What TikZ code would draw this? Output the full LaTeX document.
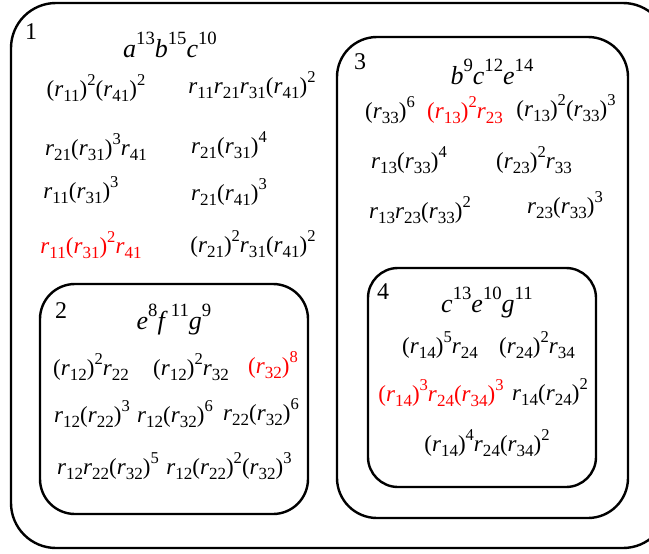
\documentclass[tikz,border=0pt]{standalone}
\usepackage{fontspec}
\setmainfont{Liberation Serif}
\newcommand{\rv}[1]{\textit{r}\raisebox{-0.22em}{\scalebox{0.74}{#1}}}
\newcommand{\pw}[1]{\raisebox{0.5em}{\scalebox{0.72}{#1}}}
\newcommand{\vv}[2]{\textit{#1}\pw{#2}}
\tikzset{
  box/.style={line width=2.4pt,rounded corners=#1},
  term/.style={font=\fontsize{23}{25}\selectfont,inner sep=0pt},
  head/.style={font=\fontsize{26}{28}\selectfont,inner sep=0pt},
  num/.style={font=\fontsize{24}{26}\selectfont,inner sep=0pt},
  hot/.style={term,red}
}
\begin{document}
\begin{tikzpicture}[x=1pt,y=-1pt]
\useasboundingbox (0,0) rectangle (649,554);
\clip (0,0) rectangle (649,554);

% the four regions
\draw [box=45pt](11,3) rectangle (668,548);
\draw [box=35pt](40,284) rectangle (308,514);
\draw [box=40pt](337,37) rectangle (628,518);
\draw [box=30pt](368,268) rectangle (596,487);

% region 1
\node[num] (n1) at (31,32) {1};
\node[head] (h1) at (170,45) {\vv{a}{13}\vv{b}{15}\vv{c}{10}};
\node[term] (t11) at (96,88) {(\rv{11})\pw{2}(\rv{41})\pw{2}};
\node[term] (t12) at (252,85) {\rv{11}\rv{21}\rv{31}(\rv{41})\pw{2}};
\node[term] (t13) at (96,147) {\rv{21}(\rv{31})\pw{3}\rv{41}};
\node[term] (t14) at (229,145) {\rv{21}(\rv{31})\pw{4}};
\node[term] (t15) at (81,190) {\rv{11}(\rv{31})\pw{3}};
\node[term] (t16) at (229,192) {\rv{21}(\rv{41})\pw{3}};
\node[hot] (t17) at (91,245) {\rv{11}(\rv{31})\pw{2}\rv{41}};
\node[term] (t18) at (253,244) {(\rv{21})\pw{2}\rv{31}(\rv{41})\pw{2}};

% region 2
\node[num] (n2) at (61,311) {2};
\node[head] (h2) at (174,320) {\vv{e}{8}\vv{f}{\,11}\vv{g}{9}};
\node[term] (t21) at (91,367) {(\rv{12})\pw{2}\rv{22}};
\node[term] (t22) at (191,367) {(\rv{12})\pw{2}\rv{32}};
\node[hot] (t23) at (273,365) {(\rv{32})\pw{8}};
\node[term] (t24) at (92,414) {\rv{12}(\rv{22})\pw{3}};
\node[term] (t25) at (175,414) {\rv{12}(\rv{32})\pw{6}};
\node[term] (t26) at (261,412) {\rv{22}(\rv{32})\pw{6}};
\node[term] (t27) at (108,466) {\rv{12}\rv{22}(\rv{32})\pw{5}};
\node[term] (t28) at (229,466) {\rv{12}(\rv{22})\pw{2}(\rv{32})\pw{3}};

% region 3
\node[num] (n3) at (360,62) {3};
\node[head] (h3) at (492,72) {\vv{b}{9}\vv{c}{12}\vv{e}{14}};
\node[term] (t31) at (390,110) {(\rv{33})\pw{6}};
\node[hot] (t32) at (465,110) {(\rv{13})\pw{2}\rv{23}};
\node[term] (t33) at (566,108) {(\rv{13})\pw{2}(\rv{33})\pw{3}};
\node[term] (t34) at (409,160) {\rv{13}(\rv{33})\pw{4}};
\node[term] (t35) at (534,160) {(\rv{23})\pw{2}\rv{33}};
\node[term] (t36) at (420,210) {\rv{13}\rv{23}(\rv{33})\pw{2}};
\node[term] (t37) at (565,205) {\rv{23}(\rv{33})\pw{3}};

% region 4
\node[num] (n4) at (383,292) {4};
\node[head] (h4) at (487,303) {\vv{c}{13}\vv{e}{10}\vv{g}{11}};
\node[term] (t41) at (440,345) {(\rv{14})\pw{5}\rv{24}};
\node[term] (t42) at (537,345) {(\rv{24})\pw{2}\rv{34}};
\node[hot] (t43) at (441,393) {(\rv{14})\pw{3}\rv{24}(\rv{34})\pw{3}};
\node[term] (t44) at (550,392) {\rv{14}(\rv{24})\pw{2}};
\node[term] (t45) at (487,443) {(\rv{14})\pw{4}\rv{24}(\rv{34})\pw{2}};
\end{tikzpicture}
\end{document}
